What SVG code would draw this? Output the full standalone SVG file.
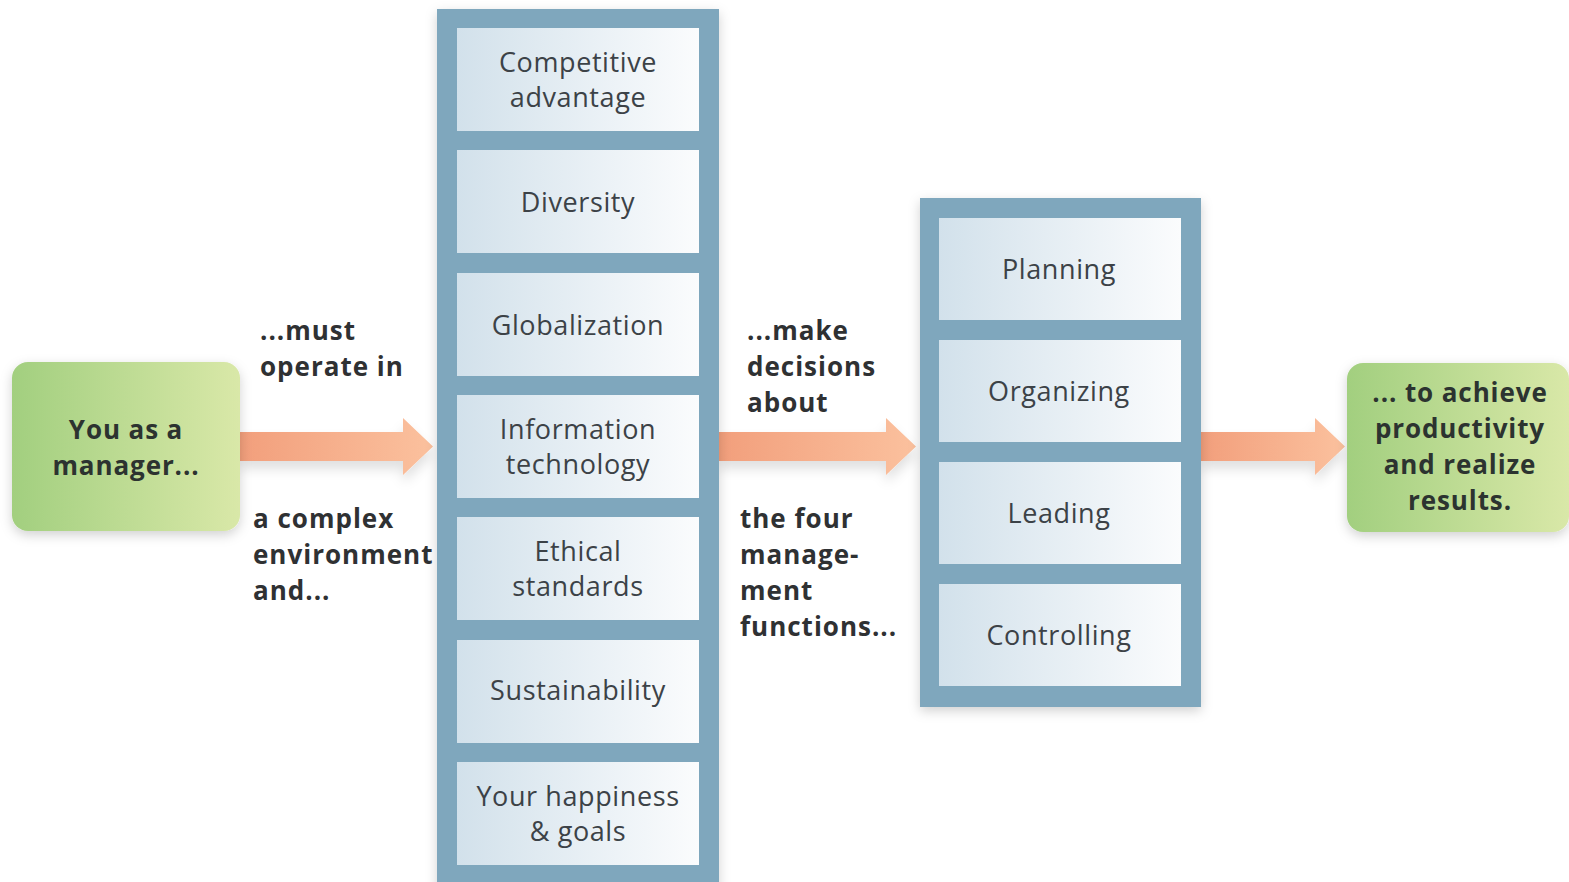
<svg xmlns="http://www.w3.org/2000/svg" width="1569" height="882" viewBox="0 0 1569 882">
<defs>
<linearGradient id="green" x1="0" y1="0" x2="1" y2="0">
<stop offset="0" stop-color="#a2cf7f"/>
<stop offset="1" stop-color="#d9e8a8"/>
</linearGradient>
<linearGradient id="inner" x1="0" y1="0" x2="1" y2="0">
<stop offset="0" stop-color="#d2e1eb"/>
<stop offset="1" stop-color="#fbfcfd"/>
</linearGradient>
<linearGradient id="arrowg" x1="0" y1="0" x2="1" y2="0">
<stop offset="0" stop-color="#f29f7c"/>
<stop offset="1" stop-color="#fbc19e"/>
</linearGradient>
<filter id="shadow" x="-20%" y="-20%" width="140%" height="140%">
<feDropShadow dx="0" dy="4" stdDeviation="6" flood-color="#000" flood-opacity="0.18"/>
</filter>
<filter id="ashadow" x="-10%" y="-50%" width="120%" height="200%">
<feDropShadow dx="0" dy="8" stdDeviation="6" flood-color="#000" flood-opacity="0.12"/>
</filter>
</defs>
<style>
.col{fill:#7fa7bd;filter:url(#shadow)}
.box{fill:url(#inner)}
.node{fill:url(#green);filter:url(#shadow)}
.bt{font-family:"Open Sans","Noto Sans",sans-serif;font-size:27px;fill:#3c4247;text-anchor:middle;letter-spacing:0.6px}
.nt{font-family:"Open Sans","Noto Sans",sans-serif;font-size:26px;font-weight:bold;fill:#2c3330;text-anchor:middle;letter-spacing:0.9px}
.lt{font-family:"Open Sans","Noto Sans",sans-serif;font-size:26px;font-weight:bold;fill:#2f3133;letter-spacing:1px}
.arr{fill:url(#arrowg);filter:url(#ashadow)}
</style>
<rect width="1569" height="882" fill="#ffffff"/>

<g id="connectors">
<polygon class="arr" points="240,432 403,432 403,418 433,446.5 403,475 403,461 240,461"/>
<polygon class="arr" points="719,432 886,432 886,418 916,446.5 886,475 886,461 719,461"/>
<polygon class="arr" points="1201,432 1315,432 1315,418 1345,446.5 1315,475 1315,461 1201,461"/>
</g>

<g id="labels">
<text class="lt" x="260" y="340">...must</text>
<text class="lt" x="260" y="376">operate in</text>
<text class="lt" x="253" y="528">a complex</text>
<text class="lt" x="253" y="564">environment</text>
<text class="lt" x="253" y="600">and...</text>
<text class="lt" x="747" y="340">...make</text>
<text class="lt" x="747" y="376">decisions</text>
<text class="lt" x="747" y="412">about</text>
<text class="lt" x="740" y="528">the four</text>
<text class="lt" x="740" y="564">manage-</text>
<text class="lt" x="740" y="600">ment</text>
<text class="lt" x="740" y="636">functions...</text>
</g>

<g id="manager">
<rect class="node" x="12" y="362" width="228" height="169" rx="16"/>
<text class="nt" x="126" y="439">You as a</text>
<text class="nt" x="126" y="475">manager...</text>
</g>

<g id="results">
<rect class="node" x="1347" y="363" width="222" height="169" rx="16"/>
<text class="nt" x="1460" y="402">... to achieve</text>
<text class="nt" x="1460" y="438">productivity</text>
<text class="nt" x="1460" y="474">and realize</text>
<text class="nt" x="1460" y="510">results.</text>
</g>

<g id="environment">
<rect class="col" x="437" y="9" width="282" height="880"/>
<g id="competitive-advantage">
<rect class="box" x="457" y="28" width="242" height="103"/>
<text class="bt" x="578" y="72">Competitive</text>
<text class="bt" x="578" y="107">advantage</text>
</g>
<g id="diversity">
<rect class="box" x="457" y="150" width="242" height="103"/>
<text class="bt" x="578" y="212">Diversity</text>
</g>
<g id="globalization">
<rect class="box" x="457" y="273" width="242" height="103"/>
<text class="bt" x="578" y="335">Globalization</text>
</g>
<g id="information-technology">
<rect class="box" x="457" y="395" width="242" height="103"/>
<text class="bt" x="578" y="439">Information</text>
<text class="bt" x="578" y="474">technology</text>
</g>
<g id="ethical-standards">
<rect class="box" x="457" y="517" width="242" height="103"/>
<text class="bt" x="578" y="561">Ethical</text>
<text class="bt" x="578" y="596">standards</text>
</g>
<g id="sustainability">
<rect class="box" x="457" y="640" width="242" height="103"/>
<text class="bt" x="578" y="700">Sustainability</text>
</g>
<g id="happiness-goals">
<rect class="box" x="457" y="762" width="242" height="103"/>
<text class="bt" x="578" y="806">Your happiness</text>
<text class="bt" x="578" y="841">&amp; goals</text>
</g>
</g>

<g id="functions">
<rect class="col" x="920" y="198" width="281" height="509"/>
<g id="planning">
<rect class="box" x="939" y="218" width="242" height="102"/>
<text class="bt" x="1059" y="279">Planning</text>
</g>
<g id="organizing">
<rect class="box" x="939" y="340" width="242" height="102"/>
<text class="bt" x="1059" y="401">Organizing</text>
</g>
<g id="leading">
<rect class="box" x="939" y="462" width="242" height="102"/>
<text class="bt" x="1059" y="523">Leading</text>
</g>
<g id="controlling">
<rect class="box" x="939" y="584" width="242" height="102"/>
<text class="bt" x="1059" y="645">Controlling</text>
</g>
</g>
</svg>
